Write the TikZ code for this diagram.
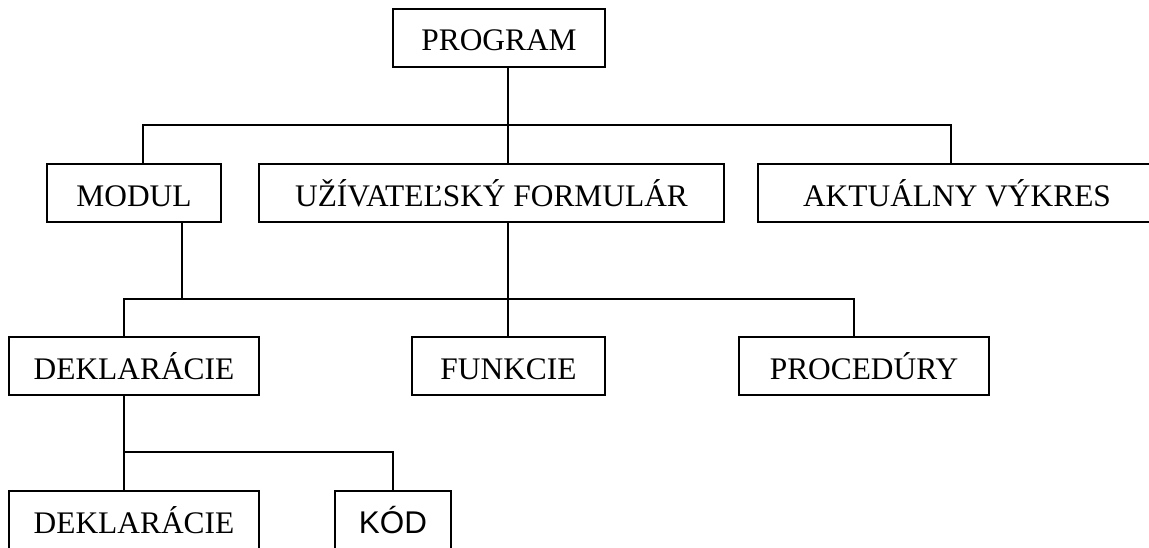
\documentclass[tikz,border=0pt]{standalone}
\usepackage{fontspec}
\setmainfont{Liberation Serif}
\newfontfamily\kodfont{Liberation Sans}
\usepackage{tikz}
\usetikzlibrary{calc}

\begin{document}
\begin{tikzpicture}[
  x=0.5pt, y=-0.5pt,
  font=\fontsize{15.7}{18}\selectfont,
  box/.style={draw=black, line width=1pt, inner sep=0pt, text height=15pt, text depth=2pt,
    minimum height=29pt, anchor=center},
  wire/.style={draw=black, line width=0.8pt}
]

% page frame
\useasboundingbox (0,0) rectangle (1149,547);
\clip (0,0) rectangle (1149,547);

% top level
\node[box, minimum width=106pt] (prog) at (499,37.5) {PROGRAM};

% second level
\node[box, minimum width=87pt]  (modul) at (134,193)   {MODUL};
\node[box, minimum width=232.5pt] (uf)  at (491.5,193) {UŽÍVATEĽSKÝ FORMULÁR};
\node[box, minimum width=199pt] (akt)   at (957,193)   {AKTUÁLNY VÝKRES};

% third level
\node[box, minimum width=125pt] (dekl)  at (134,366)   {DEKLARÁCIE};
\node[box, minimum width=96.5pt] (funk) at (508.5,366) {FUNKCIE};
\node[box, minimum width=125pt] (proc)  at (864,366)   {PROCEDÚRY};

% fourth level
\node[box, minimum width=125pt] (dekl2) at (134,520)   {DEKLARÁCIE};
\node[box, minimum width=58pt]  (kod)   at (393,520)   {\kodfont KÓD};

% bus lines
\coordinate (b1l) at (143,125);
\coordinate (b1m) at (508,125);
\coordinate (b1r) at (951,125);
\coordinate (b2l) at (124,299);
\coordinate (b2a) at (182,299);
\coordinate (b2m) at (508,299);
\coordinate (b2r) at (854,299);
\coordinate (b3l) at (124,452);
\coordinate (b3r) at (393,452);

% program -> modul, formular, vykres
\draw[wire] (prog.south -| b1m) -- (uf.north -| b1m);
\draw[wire] (modul.north -| b1l) -- (b1l) -- (b1r) -- (akt.north -| b1r);

% modul, formular -> deklaracie, funkcie, procedury
\draw[wire] (modul.south -| b2a) -- (b2a);
\draw[wire] (uf.south -| b2m) -- (funk.north -| b2m);
\draw[wire] (dekl.north -| b2l) -- (b2l) -- (b2r) -- (proc.north -| b2r);

% deklaracie -> deklaracie, kod
\draw[wire] (dekl.south -| b3l) -- (dekl2.north -| b3l);
\draw[wire] (b3l) -- (b3r) -- (kod.north -| b3r);

\end{tikzpicture}
\end{document}
